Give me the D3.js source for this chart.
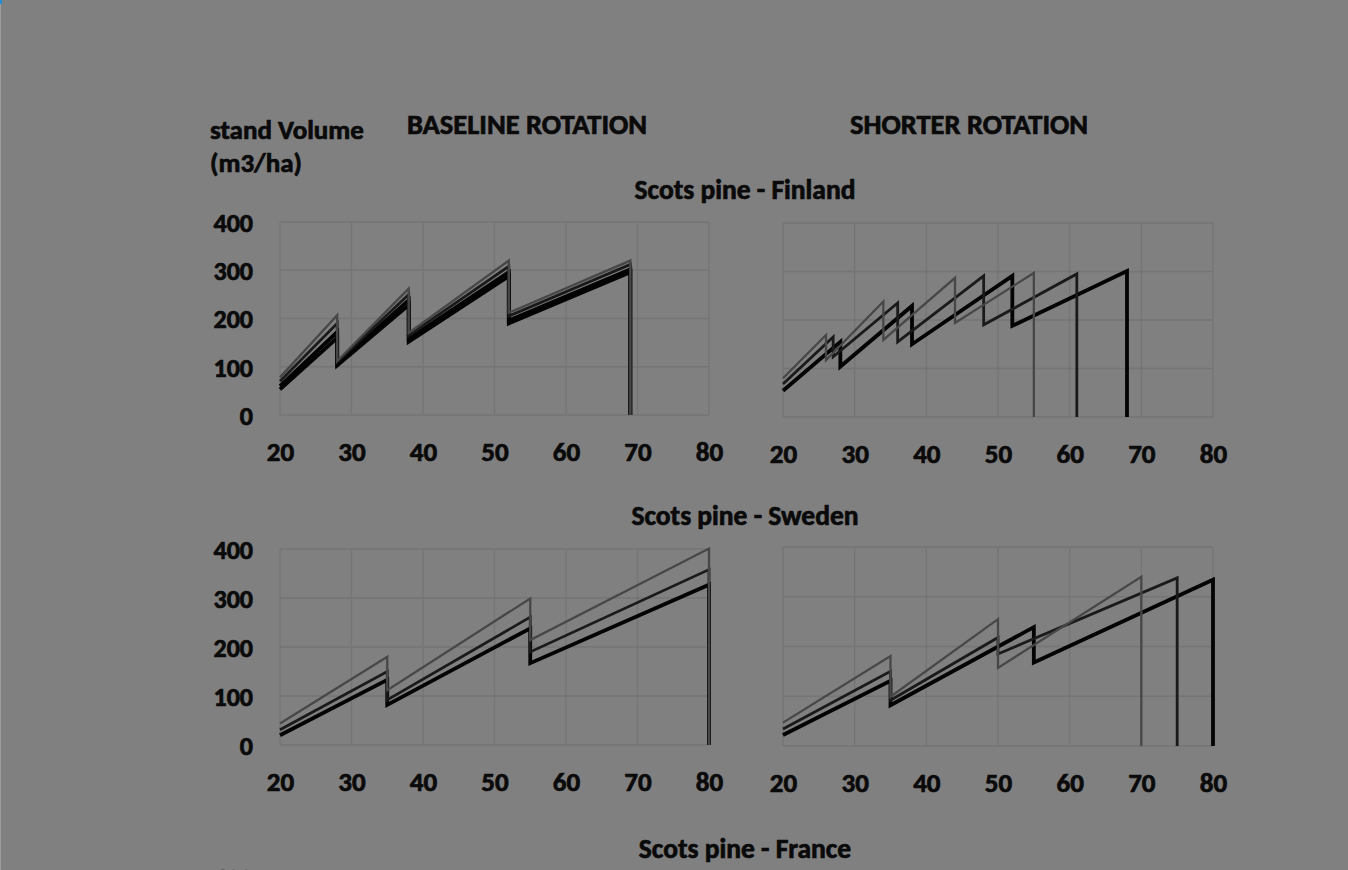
<!DOCTYPE html>
<html>
<head>
<meta charset="utf-8">
<script src="https://cdn.jsdelivr.net/npm/d3@7"></script>
<style>
  html, body { margin: 0; padding: 0; background: #808080; overflow: hidden; }
  svg { display: block; }
  text { font-family: Carlito, Lato, "Open Sans", sans-serif; font-weight: 700; fill: #0a0a0a; stroke: #0a0a0a; stroke-width: 0.7px; }
</style>
</head>
<body>
<svg id="chart" width="1348" height="870"></svg>
<script>
// ---- tick labels ----
const ageTicks = [20, 30, 40, 50, 60, 70, 80];
const volumeTicks = [0, 100, 200, 300, 400];

// ---- Scots pine - Finland, baseline rotation ----
const finBaseAges = [20, 28, 28, 38, 38, 52, 52, 69, 69];
const finBaseA = [78, 207, 112, 262, 170, 320, 212, 320, 0];
const finBaseB = [70, 190, 110, 250, 165, 308, 205, 312, 0];
const finBaseC = [60, 172, 106, 238, 158, 296, 196, 302, 0];
const finBaseD = [53, 160, 103, 228, 152, 288, 190, 296, 0];

// ---- Scots pine - Finland, shorter rotation ----
const finShortAgesA = [20, 26, 26, 34, 34, 44, 44, 55, 55];
const finShortA = [80, 169, 117, 238, 159, 287, 194, 297, 0];
const finShortAgesB = [20, 27, 27, 36, 36, 48, 48, 61, 61];
const finShortB = [68, 165, 124, 235, 155, 291, 190, 295, 0];
const finShortAgesC = [20, 28, 28, 38, 38, 52, 52, 68, 68];
const finShortC = [54, 155, 104, 229, 150, 291, 188, 301, 0];

// ---- Scots pine - Sweden, baseline rotation ----
const sweBaseAges = [20, 35, 35, 55, 55, 80, 80];
const sweBaseA = [44, 180, 112, 299, 214, 401, 0];
const sweBaseB = [31, 150, 92, 261, 190, 358, 0];
const sweBaseC = [20, 133, 82, 238, 167, 327, 0];

// ---- Scots pine - Sweden, shorter rotation ----
const sweShortAgesA = [20, 35, 35, 50, 50, 70, 70];
const sweShortA = [47, 181, 99, 255, 157, 340, 0];
const sweShortAgesB = [20, 35, 35, 50, 50, 75, 75];
const sweShortB = [34, 150, 92, 218, 185, 338, 0];
const sweShortAgesC = [20, 35, 35, 55, 55, 80, 80];
const sweShortC = [22, 131, 82, 239, 168, 334, 0];

// ---- styles ----
const styleGray = { stroke: "#474747", width: 2.3 };
const styleDark = { stroke: "#1a1a1a", width: 2.8 };
const styleBlack = { stroke: "#030303", width: 3.8 };

const zip = (xs, ys) => xs.map((x, i) => [x, ys[i]]);

const panels = [
  { x0: 280, x1: 709, y0: 415, y1: 222, yLabels: true,
    series: [
      { pts: zip(finBaseAges, finBaseD), s: styleBlack },
      { pts: zip(finBaseAges, finBaseC), s: styleBlack },
      { pts: zip(finBaseAges, finBaseB), s: styleDark },
      { pts: zip(finBaseAges, finBaseA), s: styleGray } ] },
  { x0: 783, x1: 1213, y0: 417, y1: 223, yLabels: false,
    series: [
      { pts: zip(finShortAgesC, finShortC), s: styleBlack },
      { pts: zip(finShortAgesB, finShortB), s: styleDark },
      { pts: zip(finShortAgesA, finShortA), s: styleGray } ] },
  { x0: 280, x1: 709, y0: 745, y1: 549, yLabels: true,
    series: [
      { pts: zip(sweBaseAges, sweBaseC), s: styleBlack },
      { pts: zip(sweBaseAges, sweBaseB), s: styleDark },
      { pts: zip(sweBaseAges, sweBaseA), s: styleGray } ] },
  { x0: 783, x1: 1213, y0: 746, y1: 547, yLabels: false,
    series: [
      { pts: zip(sweShortAgesC, sweShortC), s: styleBlack },
      { pts: zip(sweShortAgesB, sweShortB), s: styleDark },
      { pts: zip(sweShortAgesA, sweShortA), s: styleGray } ] }
];

const svg = d3.select("#chart");
svg.append("rect").attr("width", 1348).attr("height", 870).attr("fill", "#808080");
svg.append("rect").attr("x", 0).attr("y", 0).attr("width", 1).attr("height", 870).attr("fill", "#9c9c9c");
svg.append("rect").attr("x", 0).attr("y", 0).attr("width", 2).attr("height", 4).attr("fill", "#1e90d8");

panels.forEach(p => {
  const x = d3.scaleLinear().domain([20, 80]).range([p.x0, p.x1]);
  const y = d3.scaleLinear().domain([0, 400]).range([p.y0, p.y1]);
  const g = svg.append("g");

  // gridlines
  g.append("g").selectAll("line.h").data(volumeTicks).join("line")
    .attr("x1", p.x0).attr("x2", p.x1)
    .attr("y1", d => y(d)).attr("y2", d => y(d))
    .attr("stroke", "#757575").attr("stroke-width", 1.3);
  g.append("g").selectAll("line.v").data(ageTicks).join("line")
    .attr("x1", d => x(d)).attr("x2", d => x(d))
    .attr("y1", p.y0).attr("y2", p.y1)
    .attr("stroke", "#757575").attr("stroke-width", 1.3);

  // x axis
  const xa = g.append("g").attr("transform", `translate(0,${p.y0})`)
    .call(d3.axisBottom(x).tickValues(ageTicks).tickSize(0).tickPadding(0).tickFormat(d3.format("d")));
  xa.select(".domain").remove();
  xa.selectAll("text").attr("font-size", 27).attr("dy", 0).attr("y", 46)
    .attr("font-family", null).attr("fill", "#0a0a0a");

  if (p.yLabels) {
    const ya = g.append("g").attr("transform", `translate(${p.x0 - 27},0)`)
      .call(d3.axisLeft(y).tickValues(volumeTicks).tickSize(0).tickPadding(0).tickFormat(d3.format("d")));
    ya.select(".domain").remove();
    ya.selectAll("text").attr("font-size", 26).attr("dy", "0.36em")
      .attr("font-family", null).attr("fill", "#0a0a0a");
  }

  const line = d3.line().x(d => x(d[0])).y(d => y(d[1]));
  p.series.forEach(s => {
    g.append("path").attr("d", line(s.pts))
      .attr("fill", "none").attr("stroke", s.s.stroke)
      .attr("stroke-width", s.s.width).attr("stroke-linejoin", "miter");
  });
});

// titles
const titles = [
  { t: "stand Volume", x: 210, y: 139, a: "start", fs: 27 },
  { t: "(m3/ha)", x: 210, y: 172, a: "start", fs: 27 },
  { t: "BASELINE ROTATION", x: 527, y: 134, a: "middle", fs: 28.5 },
  { t: "SHORTER ROTATION", x: 969, y: 134, a: "middle", fs: 28.5 },
  { t: "Scots pine - Finland", x: 745, y: 199, a: "middle", fs: 27.5 },
  { t: "Scots pine - Sweden", x: 745, y: 525, a: "middle", fs: 27.5 },
  { t: "Scots pine - France", x: 745, y: 858, a: "middle", fs: 27.5 },
  { t: "400", x: 253, y: 887, a: "end", fs: 26 }
];
svg.append("g").selectAll("text").data(titles).join("text")
  .attr("x", d => d.x).attr("y", d => d.y)
  .attr("text-anchor", d => d.a).attr("font-size", d => d.fs)
  .text(d => d.t);
</script>
</body>
</html>
